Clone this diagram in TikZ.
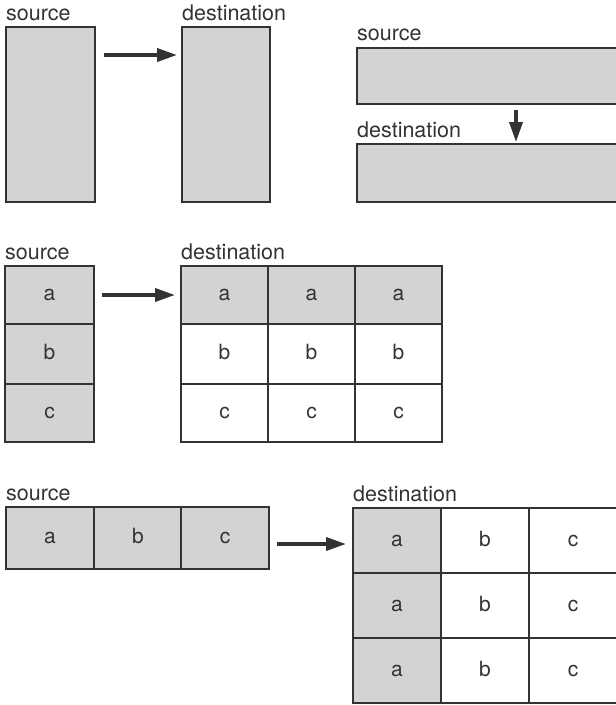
\documentclass[tikz,border=0pt]{standalone}
\usepackage{fontspec}
\setmainfont{TeX Gyre Heros}
\usetikzlibrary{arrows.meta}
\definecolor{ink}{HTML}{333333}
\definecolor{shade}{HTML}{D3D3D3}
\begin{document}
\begin{tikzpicture}[x=1pt,y=-1pt,
  lbl/.style={anchor=base west,inner sep=0pt,text=ink,font=\fontsize{21.5}{25}\selectfont},
  box/.style={draw=ink,line width=1.5pt,inner sep=0pt,outer sep=0pt,text=ink,
    font=\fontsize{21}{25}\selectfont,text height=11pt,text depth=0pt},
  gbox/.style={box,fill=shade},
  wbox/.style={box,fill=white},
  arr/.style={draw=ink,line width=3.6pt,-{Triangle[length=20pt,width=13pt]}}]
\useasboundingbox (0,0) rectangle (616,705);
\fill[white] (0,0) rectangle (616,705);
% ---------- panel 1
\node[lbl] (l1s) at (6,20) {source};
\node[lbl] (l1d) at (182,20) {destination};
\node[gbox,minimum width=89pt,minimum height=175pt] (s1) at (50.5,114.5) {};
\node[gbox,minimum width=88pt,minimum height=175pt] (d1) at (226,114.5) {};
\coordinate (a1s) at (104,55);
\coordinate (a1e) at (177,55);
\draw[arr] (a1s) -- (a1e);
% ---------- panel 2
\node[lbl] (l2s) at (357,40) {source};
\node[lbl] (l2d) at (357,137) {destination};
\node[gbox,minimum width=280pt,minimum height=56pt] (s2) at (497,76) {};
\node[gbox,minimum width=280pt,minimum height=58pt] (d2) at (497,173) {};
\coordinate (a2s) at (516,110);
\coordinate (a2e) at (516,142);
\draw[arr] (a2s) -- (a2e);
% ---------- panel 3
\node[lbl] (l3s) at (5,259) {source};
\node[lbl] (l3d) at (181,259) {destination};
\node[gbox,minimum width=89pt,minimum height=58pt] (s3a) at (49.5,295) {a};
\node[gbox,minimum width=89pt,minimum height=60pt] (s3b) at (49.5,354) {b};
\node[gbox,minimum width=89pt,minimum height=58pt] (s3c) at (49.5,413) {c};
\foreach \i/\x in {1/224.5,2/311.5,3/398.5}{
  \node[gbox,minimum width=87pt,minimum height=58pt] (d3a\i) at (\x,295) {a};
  \node[wbox,minimum width=87pt,minimum height=60pt] (d3b\i) at (\x,354) {b};
  \node[wbox,minimum width=87pt,minimum height=58pt] (d3c\i) at (\x,413) {c};
}
\coordinate (a3s) at (102,295);
\coordinate (a3e) at (175,295);
\draw[arr] (a3s) -- (a3e);
% ---------- panel 4
\node[lbl] (l4s) at (6,500) {source};
\node[lbl] (l4d) at (353,501) {destination};
\node[gbox,minimum width=88pt,minimum height=62pt] (s4a) at (50,538) {a};
\node[gbox,minimum width=88pt,minimum height=62pt] (s4b) at (138,538) {b};
\node[gbox,minimum width=88pt,minimum height=62pt] (s4c) at (225,538) {c};
\foreach \j/\y in {1/540.5,2/605.5,3/670.5}{
  \node[gbox,minimum width=88pt,minimum height=65pt] (d4a\j) at (397,\y) {a};
  \node[wbox,minimum width=88pt,minimum height=65pt] (d4b\j) at (485,\y) {b};
  \node[wbox,minimum width=88pt,minimum height=65pt] (d4c\j) at (573,\y) {c};
}
\coordinate (a4s) at (277,544);
\coordinate (a4e) at (346,544);
\draw[arr] (a4s) -- (a4e);
\end{tikzpicture}
\end{document}
